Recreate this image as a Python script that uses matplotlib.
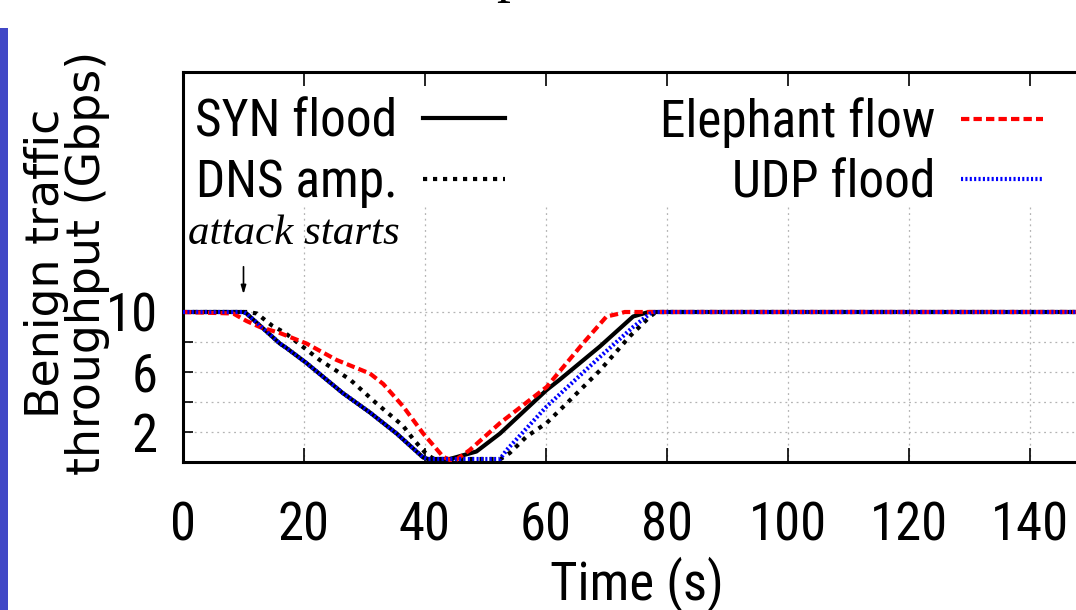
import os
import glob
import matplotlib
matplotlib.use('Agg')
import matplotlib.pyplot as plt
from matplotlib import font_manager
from matplotlib.font_manager import FontProperties
from matplotlib.patches import Rectangle

# values
t_syn = [0, 10, 10.5, 16, 17.1, 20.4, 26.4, 30.9, 35.3, 39.7, 40.5, 44.1, 48.5, 52.4,
         60.1, 62.3, 68.9, 74.4, 76.1, 77, 150]
syn = [10, 10, 9.9, 7.9, 7.6, 6.6, 4.6, 3.3, 1.9, 0.3, 0.2, 0.2, 0.7, 1.9,
       4.8, 5.5, 7.7, 9.7, 9.9, 10, 10]

t_dns = [0, 10.7, 12.2, 14.7, 16.9, 22.6, 27.6, 32.0, 36.4, 38.1, 40.3, 41.5, 52.5, 54,
         56.8, 60.1, 63.4, 68.9, 73.9, 77.2, 78.2, 150]
dns = [10, 10, 9.9, 9.1, 8.6, 6.8, 5.5, 3.9, 2.4, 1.5, 0.5, 0.2, 0.2, 0.6,
       1.7, 2.6, 3.9, 6.1, 8.4, 9.7, 10, 10]

t_ele = [0, 8.3, 10.5, 12.7, 16, 20.4, 25.4, 30.9, 33.1, 36.4, 39.7, 43.0, 44.3, 45.0,
         47.4, 52.4, 60.1, 66.1, 70.0, 72.2, 73, 150]
ele = [10, 9.9, 9.4, 9.0, 8.6, 7.9, 6.8, 5.9, 5.2, 3.7, 1.9, 0.35, 0.1, 0.1,
       0.8, 2.6, 5.0, 7.9, 9.7, 9.9, 10, 10]

t_udp = [0, 10, 10.5, 16, 17.1, 20.4, 26.4, 30.9, 35.3, 39.7, 40.5, 52.4, 53.5,
         60.1, 68.9, 74.4, 77.2, 78, 150]
udp = [10, 10, 9.9, 7.9, 7.6, 6.6, 4.6, 3.3, 1.9, 0.3, 0.2, 0.2, 0.8,
       3.7, 7.0, 9.0, 9.9, 10, 10]

x_ticks = [0, 20, 40, 60, 80, 100, 120, 140]
y_ticks = [2, 4, 6, 8, 10]
y_tick_labels = ['2', '', '6', '', '10']

attack_time = 10


def narrow_font():
    """Look for a condensed sans font file; the original text is tall and narrow."""
    files = [f.fname for f in font_manager.fontManager.ttflist]
    files += glob.glob('/usr/share/fonts/**/*.[ot]tf', recursive=True)
    files += glob.glob('/usr/local/share/fonts/**/*.[ot]tf', recursive=True)
    wanted = ['LiberationSansNarrow-Regular.', 'NotoSans-Condensed.', 'NotoSans-ExtraCondensed.',
              'RobotoCondensed-Regular.', 'NotoSans-SemiCondensed.', 'DejaVuSansCondensed.']
    for w in wanted:
        for f in files:
            if os.path.basename(f).startswith(w):
                return FontProperties(fname=f), True
    return FontProperties(family='Liberation Sans'), False


def px(x, y):
    # pixel position (from top left) -> figure fraction
    return x / 1076, 1 - y / 610


def main():
    narrow, found = narrow_font()
    big = 38 if found else 33

    fig = plt.figure(figsize=(10.76, 6.10), dpi=100)
    left, top = px(183, 72)
    _, bottom = px(183, 462)
    ax = fig.add_axes([left, bottom, 907.5 / 1076, top - bottom])

    ax.set_xlim(0, 150)
    ax.set_ylim(0, 26)

    # grid, hidden behind the key area in the original
    ax.vlines(x_ticks[1:], 0, 17.1, colors='#b4b4b4', linestyles=(0, (1.5, 3)), linewidth=0.9, zorder=1)
    ax.hlines(y_ticks, 0, 150, colors='#b4b4b4', linestyles=(0, (1.5, 3)), linewidth=0.9, zorder=1)

    l_syn, = ax.plot(t_syn, syn, color='black', lw=3, label='SYN flood', zorder=3)
    l_dns, = ax.plot(t_dns, dns, color='black', lw=3, dashes=(1, 1.4), label='DNS amp.', zorder=4)
    l_ele, = ax.plot(t_ele, ele, color='#ff0000', lw=3, dashes=(2, 1), label='Elephant flow', zorder=5)
    l_udp, = ax.plot(t_udp, udp, color='#0000ff', lw=3, dashes=(0.5, 0.55), label='UDP flood', zorder=6)

    for s in ax.spines.values():
        s.set_linewidth(2.2)

    ax.set_xticks(x_ticks)
    ax.set_yticks(y_ticks)
    ax.set_yticklabels(y_tick_labels)
    ax.tick_params(axis='x', direction='in', length=10, width=1.2, top=True, pad=28)
    ax.tick_params(axis='y', direction='in', length=7, width=1.2, right=True, pad=18)
    for lab in ax.get_xticklabels() + ax.get_yticklabels():
        lab.set_fontproperties(narrow)
        lab.set_fontsize(big)

    ax.set_xlabel('Time (s)', fontproperties=narrow, fontsize=big, labelpad=3)

    fig.text(*px(67, 263), 'Benign traffic\nthroughput (Gbps)', rotation=90, ha='center', va='center',
             multialignment='center', linespacing=0.89, fontfamily='DejaVu Sans', fontsize=33)

    ax.text(0.8, 14.5, 'attack starts', fontfamily='Liberation Serif', style='italic',
            fontsize=31, ha='left', va='baseline')
    ax.annotate('', xy=(attack_time, 11.0), xytext=(attack_time, 13.2),
                arrowprops=dict(arrowstyle='-|>,head_length=0.5,head_width=0.15', color='black', lw=1.2))

    key_font = narrow.copy()
    key_font.set_size(big - 1)
    leg1 = ax.legend(handles=[l_syn, l_dns], loc='upper right', bbox_to_anchor=(0.355, 0.935),
                     markerfirst=False, frameon=False, handlelength=1.6, handletextpad=0.5,
                     labelspacing=0.2, borderpad=0, borderaxespad=0, prop=key_font)
    ax.add_artist(leg1)
    ax.legend(handles=[l_ele, l_udp], loc='upper right', bbox_to_anchor=(0.948, 0.935),
              markerfirst=False, frameon=False, handlelength=1.6, handletextpad=0.5,
              labelspacing=0.2, borderpad=0, borderaxespad=0, prop=key_font)

    # bits of the surrounding page that show in the crop
    fig.patches.append(Rectangle(px(0, 610), 8 / 1076, 582 / 610, transform=fig.transFigure,
                                 facecolor='#4147c6', edgecolor='none'))
    fig.text(510 / 1076, 1 + 9 / 610, 'p', fontfamily='Liberation Serif', fontsize=40,
             ha='center', va='baseline')

    fig.savefig('out.png', dpi=100)


if __name__ == '__main__':
    main()
